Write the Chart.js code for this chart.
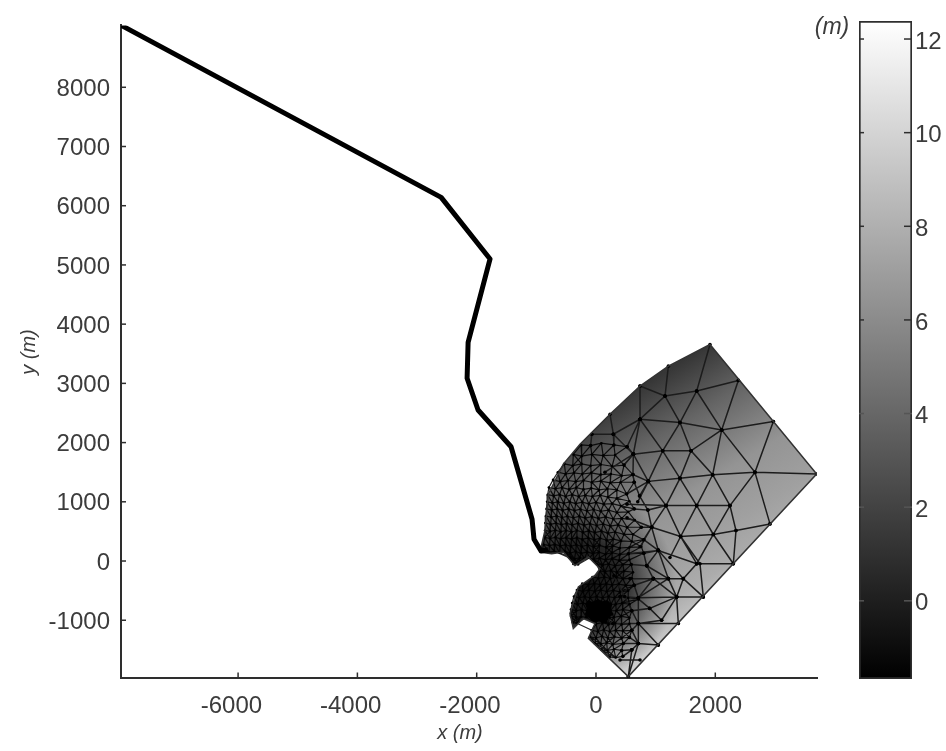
<!DOCTYPE html>
<html lang="en">

<head>
    <meta charset="UTF-8">
    <title>Mesh and colorbar</title>
    <script src="https://cdn.jsdelivr.net/npm/chart.js"></script>
    <style>
        body { margin: 0; background: #fff; }
        canvas { position: absolute; left: 0; top: 0; filter: blur(0.5px); }
    </style>
</head>

<body>
    <canvas id="meshChart" width="946" height="751"></canvas>
    <canvas id="barChart" width="946" height="751"></canvas>

    <script>
        // axes
        const xRange = [-7963, 3705];
        const yRange = [-1967, 9045];
        const xTicks = [-6000, -4000, -2000, 0, 2000];
        const yTicks = [-1000, 0, 1000, 2000, 3000, 4000, 5000, 6000, 7000, 8000];
        const barRange = [-1.67, 12.385];
        const barTicks = [0, 2, 4, 6, 8, 10, 12];

        // thick channel line
        const coastline = [[-7956, 9044], [-2596, 6141], [-1776, 5101], [-2144, 3691], [-2161, 3087], [-1977, 2550],
            [-1424, 1930], [-1072, 705], [-1039, 369], [-921, 168], [-804, 190]];

        // outline of the meshed area
        const domain = [[-799, 1132], [-548, 1637], [-268, 1973], [235, 2478], [738, 2955], [1213, 3291], [1911, 3656],
            [3699, 1469], [542, -1952], [-128, -1307], [-17, -1055], [-212, -971], [-380, -1139], [-436, -887],
            [-296, -438], [-17, -242], [67, -130], [-128, 67], [-352, -74], [-548, 151], [-743, 123], [-939, 151],
            [-855, 515], [-799, 1132]];

        // black patch where the triangles are too small to see
        const blackBlob = [[-184, -720], [-130, -660], [-60, -690], [30, -640], [110, -680], [190, -660], [270, -740], [250, -830],
            [300, -900], [210, -960], [180, -1060], [60, -1020], [-40, -1040], [-120, -960], [-190, -900], [-150, -820], [-184, -720]];

        const coarseLines = [
            [[738, 2955], [1157, 2786], [1688, 2871], [2386, 3050]],
            [[1911, 3656], [1688, 2871], [1408, 2338], [1118, 1861], [877, 1345], [700, 1000]],
            [[1213, 3291], [1157, 2786], [738, 2394], [626, 1805], [150, 1500]],
            [[738, 2955], [738, 2394]],
            [[-70, 2140], [291, 2142], [738, 2394]],
            [[738, 2394], [1408, 2338], [2107, 2214], [2973, 2355]],
            [[1688, 2871], [2107, 2214], [2665, 1497], [2917, 627]],
            [[2386, 3050], [2107, 2214], [1956, 1457], [1688, 936], [1419, 414], [1240, 60]],
            [[1157, 2786], [1408, 2338], [1593, 1861], [1956, 1457], [2246, 936], [2347, 515], [2302, -46]],
            [[2973, 2355], [2665, 1497], [2246, 936], [1967, 448], [1688, -46], [1464, -298], [1352, -606]],
            [[3699, 1469], [2665, 1497], [1956, 1457], [1408, 1396], [877, 1345], [514, 1132]],
            [[626, 1805], [1118, 1861], [1593, 1861], [2107, 2214]],
            [[738, 2394], [1118, 1861], [1408, 1396], [1688, 936], [1967, 448], [2302, -46]],
            [[1593, 1861], [1408, 1396], [1174, 936], [933, 571], [740, 240]],
            [[2917, 627], [2347, 515], [1967, 448], [1419, 414], [933, 571], [520, 730]],
            [[520, 960], [1174, 936], [1688, 936], [2246, 936]],
            [[877, 1345], [1174, 936], [1419, 414], [1743, -46], [1799, -606]],
            [[933, 571], [1045, 179], [1464, -298], [1799, -606]],
            [[542, 123], [1045, 179], [1688, -46], [2302, -46]],
            [[570, -298], [961, -298], [1213, -298], [1464, -298]],
            [[400, -600], [710, -620], [1352, -606], [1799, -606]],
            [[1352, -606], [1100, -1000], [710, -1055]],
            [[280, -1055], [710, -1055], [1380, -1055]],
            [[710, -1055], [1045, -1420]],
            [[458, -1392], [710, -1392], [1045, -1420]],
            [[710, -1055], [710, -1392], [542, -1952]],
            [[403, -1672], [738, -1672]],
            [[542, -1952], [600, -1500]],
            [[961, -298], [1352, -606], [1380, -1055]],
            [[710, -1055], [480, -600], [300, -250]],
            [[1045, 179], [1213, -298], [1352, -606]],
            [[961, -298], [710, -620], [710, -1055]],
            [[1213, -298], [710, -620]],
            [[1419, 414], [1688, -46]],
            [[235, 2478], [291, 2142], [626, 1805], [877, 1345]],
            [[-70, 2140], [-90, 1950]],
            [[291, 2142], [300, 1960]],
            [[640, 1330], [730, 1100], [877, 1345]],
            [[730, 1100], [870, 860], [1174, 936]],
            [[640, 880], [870, 860], [933, 571]],
            [[760, 570], [933, 571]],
            [[800, 360], [933, 571]],
            [[800, 360], [1045, 179]],
            [[800, 130], [1045, 179]],
            [[800, 130], [850, -80], [1045, 179]],
            [[850, -80], [1213, -298]],
            [[850, -80], [961, -298]],
            [[590, -60], [850, -80]],
            [[640, -410], [961, -298]],
            [[640, -410], [710, -620]],
            [[710, -640], [900, -800], [1352, -606]],
            [[600, -840], [900, -800], [1100, -1000]],
            [[600, -840], [710, -1055]],
            [[600, -1170], [710, -1055]],
            [[600, -1170], [710, -1392]],
            [[560, -1290], [710, -1392]],
            [[450, -1610], [600, -1500], [710, -1392]],
            [[430, -1510], [600, -1500]],
            [[640, 1330], [620, 1460], [877, 1345]],
            [[620, 1460], [626, 1805]],
            [[470, 1620], [626, 1805]],
            [[520, 1930], [626, 1805]],
            [[520, 1930], [738, 2394]]
        ];

        // nodes of the fine mesh, row by row from the top
        const fineRows = [
            [[-250, 1960], [-90, 1950], [90, 1990], [300, 1960], [520, 1930]],
            [[-380, 1800], [-240, 1770], [-70, 1800], [120, 1780], [320, 1790], [626, 1805]],
            [[-530, 1640], [-390, 1610], [-240, 1640], [-90, 1610], [80, 1630], [270, 1600], [470, 1620]],
            [[-640, 1500], [-510, 1470], [-370, 1490], [-230, 1470], [-80, 1490], [80, 1460], [250, 1470], [430, 1440], [620, 1460]],
            [[-720, 1370], [-600, 1340], [-470, 1360], [-340, 1340], [-210, 1360], [-70, 1330], [80, 1350], [240, 1320], [410, 1330], [640, 1330]],
            [[-790, 1240], [-680, 1220], [-570, 1240], [-450, 1210], [-330, 1240], [-210, 1210], [-80, 1230], [50, 1200], [190, 1220], [350, 1200], [514, 1132]],
            [[-810, 1120], [-710, 1100], [-610, 1120], [-510, 1090], [-400, 1120], [-290, 1090], [-180, 1110], [-60, 1090], [70, 1110], [200, 1080], [350, 1060], [560, 1010]],
            [[-820, 1000], [-730, 980], [-640, 1000], [-540, 975], [-440, 1000], [-340, 970], [-230, 995], [-120, 965], [0, 990], [130, 960], [270, 970], [420, 930], [640, 880]],
            [[-830, 880], [-740, 860], [-650, 880], [-560, 855], [-460, 880], [-360, 850], [-260, 875], [-150, 845], [-40, 870], [80, 840], [210, 860], [350, 820], [540, 830]],
            [[-840, 760], [-750, 740], [-660, 760], [-570, 735], [-480, 755], [-380, 730], [-280, 755], [-180, 725], [-70, 750], [40, 720], [160, 745], [290, 710], [430, 720], [650, 690]],
            [[-850, 640], [-760, 620], [-670, 640], [-580, 615], [-490, 635], [-400, 610], [-300, 635], [-200, 605], [-100, 630], [10, 600], [120, 625], [240, 590], [370, 610], [520, 570], [760, 570]],
            [[-855, 515], [-770, 500], [-680, 520], [-590, 495], [-500, 515], [-410, 490], [-320, 515], [-220, 485], [-120, 510], [-20, 480], [90, 505], [200, 470], [320, 490], [470, 450], [620, 450]],
            [[-860, 400], [-770, 380], [-680, 400], [-590, 375], [-500, 395], [-410, 370], [-320, 395], [-230, 365], [-130, 390], [-30, 360], [70, 385], [180, 350], [290, 370], [420, 340], [600, 330], [800, 360]],
            [[-880, 280], [-780, 260], [-690, 280], [-600, 255], [-510, 275], [-420, 250], [-330, 275], [-240, 245], [-140, 270], [-40, 240], [60, 265], [170, 230], [280, 255], [400, 220], [560, 230], [760, 240]],
            [[-900, 170], [-790, 150], [-700, 165], [-610, 140], [-520, 165], [-430, 135], [-340, 160], [-250, 130], [-150, 155], [-50, 125], [50, 150], [160, 115], [270, 140], [400, 110], [550, 123], [800, 130]],
            [[-440, 50], [-360, 35], [-270, 55], [-190, 40], [-110, 50], [-40, 30], [60, 50], [160, 20], [270, 40], [390, 10], [560, 20]],
            [[-380, -50], [-300, -60], [10, -50], [110, -70], [210, -50], [320, -80], [450, -60], [590, -60]],
            [[60, -165], [150, -180], [250, -160], [350, -190], [470, -170], [620, -190]],
            [[-60, -270], [40, -290], [140, -270], [240, -295], [340, -275], [450, -300], [600, -290]],
            [[-230, -380], [-130, -400], [-30, -380], [70, -400], [170, -385], [270, -405], [380, -390], [500, -410], [640, -410]],
            [[-320, -490], [-220, -510], [-120, -490], [-20, -510], [80, -490], [180, -515], [290, -495], [400, -520], [540, -500]],
            [[-370, -600], [-280, -620], [-190, -600], [-100, -620], [10, -600], [110, -620], [210, -600], [310, -620], [420, -600], [540, -620], [710, -640]],
            [[-400, -710], [-310, -730], [-220, -710], [-130, -730], [-30, -710], [70, -730], [170, -710], [250, -730], [330, -730], [440, -710], [560, -730]],
            [[-420, -820], [-330, -840], [-240, -820], [-150, -840], [-60, -820], [40, -840], [140, -820], [240, -840], [340, -840], [450, -820], [600, -840]],
            [[-420, -930], [-330, -950], [-250, -940], [-160, -950], [-70, -930], [30, -950], [130, -930], [220, -950], [300, -950], [420, -930], [560, -960]],
            [[-390, -1040], [-320, -1050], [0, -1060], [110, -1040], [210, -1070], [320, -1050], [430, -1070], [560, -1060]],
            [[-70, -1170], [30, -1190], [130, -1160], [230, -1190], [330, -1170], [450, -1180], [600, -1170]],
            [[-100, -1280], [0, -1300], [100, -1270], [200, -1300], [310, -1280], [430, -1300], [560, -1290]],
            [[-20, -1390], [80, -1400], [180, -1380], [280, -1410], [458, -1392]],
            [[90, -1500], [190, -1510], [300, -1490], [430, -1510]],
            [[230, -1620], [330, -1630], [450, -1610]]
        ];

        // grey stops of the surface, along a line from upper left to lower right
        const surfaceFrom = [-156, 3038];
        const surfaceTo = [2313, -1016];
        const surfaceStops = [[0, 45], [0.12, 55], [0.3, 100], [0.53, 148], [0.7, 160], [0.82, 172], [0.95, 205], [1, 225]];

        // shade around the fine part of the mesh, as black with falling opacity
        const shadeCentre = [-250, -400];
        const shadeRadius = 1600;
        const shadeStops = [[0, 0.9], [0.45, 0.75], [0.75, 0.3], [1, 0]];

        const maxFineEdge = 290;
        const textColor = "#3c3c3c";
        const lineColor = "#2e2e2e";
        const tickFont = { family: "'Liberation Sans'", size: 24 };

        function toPoints(list) {
            return list.map(p => ({ x: p[0], y: p[1] }));
        }

        // lines with a gap between each polyline
        function joinLines(lines) {
            let out = [];
            lines.forEach(line => {
                line.forEach(p => out.push({ x: p[0], y: p[1] }));
                out.push({ x: NaN, y: NaN });
            });
            return out;
        }

        //connect each node to its neighbours in the row and to the closest two in the next row
        function fineEdges() {
            let edges = [];
            let near = (a, b) => Math.hypot(a[0] - b[0], a[1] - b[1]);
            fineRows.forEach((row, r) => {
                row.forEach((p, i) => {
                    if (i > 0 && near(p, row[i - 1]) <= maxFineEdge) edges.push([row[i - 1], p]);
                    if (r + 1 < fineRows.length) {
                        let next = fineRows[r + 1].slice().sort((a, b) => near(p, a) - near(p, b));
                        next.slice(0, 2).forEach(q => {
                            if (near(p, q) <= maxFineEdge) edges.push([p, q]);
                        });
                    }
                });
            });
            return edges;
        }

        function surfaceFill(context) {
            let chart = context.chart;
            if (!chart.chartArea) return "#888";
            let sx = chart.scales.x, sy = chart.scales.y;
            let g = chart.ctx.createLinearGradient(
                sx.getPixelForValue(surfaceFrom[0]), sy.getPixelForValue(surfaceFrom[1]),
                sx.getPixelForValue(surfaceTo[0]), sy.getPixelForValue(surfaceTo[1]));
            surfaceStops.forEach(s => g.addColorStop(s[0], "rgb(" + s[1] + "," + s[1] + "," + s[1] + ")"));
            return g;
        }

        function shadeFill(context) {
            let chart = context.chart;
            if (!chart.chartArea) return "rgba(0,0,0,0)";
            let sx = chart.scales.x, sy = chart.scales.y;
            let cx = sx.getPixelForValue(shadeCentre[0]), cy = sy.getPixelForValue(shadeCentre[1]);
            let r = sx.getPixelForValue(shadeCentre[0] + shadeRadius) - cx;
            let g = chart.ctx.createRadialGradient(cx, cy, 0, cx, cy, r);
            shadeStops.forEach(s => g.addColorStop(s[0], "rgba(0,0,0," + s[1] + ")"));
            return g;
        }

        function barFill(context) {
            let chart = context.chart;
            if (!chart.chartArea) return "#888";
            let g = chart.ctx.createLinearGradient(0, chart.chartArea.bottom, 0, chart.chartArea.top);
            g.addColorStop(0, "#000");
            g.addColorStop(1, "#fff");
            return g;
        }

        // matlab style ticks pointing into the axes, and the axis labels
        const meshDecor = {
            id: "meshDecor",
            afterDraw(chart) {
                let c = chart.ctx, a = chart.chartArea;
                c.save();
                c.strokeStyle = lineColor;
                c.lineWidth = 1.5;
                chart.scales.x.ticks.forEach(t => {
                    let px = chart.scales.x.getPixelForValue(t.value);
                    c.beginPath(); c.moveTo(px, a.bottom); c.lineTo(px, a.bottom - 5); c.stroke();
                });
                chart.scales.y.ticks.forEach(t => {
                    let py = chart.scales.y.getPixelForValue(t.value);
                    c.beginPath(); c.moveTo(a.left, py); c.lineTo(a.left + 5, py); c.stroke();
                });
                c.fillStyle = textColor;
                c.font = "italic 20px 'Liberation Sans'";
                c.textAlign = "center";
                c.textBaseline = "middle";
                c.fillText("x (m)", 460, 733);
                c.translate(29, 352);
                c.rotate(-Math.PI / 2);
                c.fillText("y (m)", 0, 0);
                c.restore();
            }
        };

        const barDecor = {
            id: "barDecor",
            afterDraw(chart) {
                let c = chart.ctx, a = chart.chartArea;
                c.save();
                barTicks.forEach(v => {
                    let py = chart.scales.y.getPixelForValue(v);
                    c.strokeStyle = v < 5 ? "#555" : lineColor;
                    c.lineWidth = 1.5;
                    c.beginPath(); c.moveTo(a.left, py); c.lineTo(a.left + 5, py); c.stroke();
                    c.beginPath(); c.moveTo(a.right, py); c.lineTo(a.right - 8, py); c.stroke();
                });
                c.fillStyle = textColor;
                c.font = "italic 23px 'Liberation Sans'";
                c.textAlign = "center";
                c.textBaseline = "middle";
                c.fillText("(m)", 832, 28);
                c.restore();
            }
        };

        function zone(points, fill, order) {
            return { data: toPoints(points), showLine: true, fill: "shape", backgroundColor: fill, borderWidth: 0, pointRadius: 0, order: order };
        }

        new Chart(document.getElementById("meshChart"), {
            type: "scatter",
            data: {
                datasets: [
                    zone(domain, surfaceFill, 10),
                    zone(domain, shadeFill, 9),
                    {
                        data: joinLines(fineEdges()), showLine: true, spanGaps: false, borderColor: "rgba(0,0,0,0.85)",
                        borderWidth: 1.2, pointRadius: 0, order: 7
                    },
                    {
                        data: joinLines(coarseLines), showLine: true, spanGaps: false, borderColor: "#1c1c1c",
                        borderWidth: 1.5, pointRadius: 1.8, pointBackgroundColor: "#000", pointBorderWidth: 0, order: 6
                    },
                    { data: toPoints(fineRows.flat()), pointRadius: 1.3, pointBackgroundColor: "#000", pointBorderWidth: 0, order: 5 },
                    zone(blackBlob, "#000", 4),
                    {
                        data: toPoints(domain), showLine: true, borderColor: "#333", borderWidth: 1.5, pointRadius: 0, order: 3
                    },
                    {
                        data: toPoints(coastline), showLine: true, borderColor: "#000", borderWidth: 5, pointRadius: 0,
                        borderJoinStyle: "round", order: 2
                    }
                ]
            },
            options: {
                responsive: false,
                animation: false,
                layout: { padding: { top: 23, right: 129, left: 0, bottom: 0 } },
                plugins: { legend: { display: false }, tooltip: { enabled: false } },
                scales: {
                    x: {
                        type: "linear",
                        min: xRange[0],
                        max: xRange[1],
                        afterBuildTicks: s => { s.ticks = xTicks.map(v => ({ value: v })); },
                        afterFit: s => { s.height = 73.5; },
                        grid: { drawOnChartArea: false, drawTicks: false },
                        border: { color: lineColor, width: 2 },
                        ticks: { color: textColor, font: tickFont, padding: 14, maxRotation: 0, autoSkip: false, callback: v => v < 0 ? v + "  " : String(v) }
                    },
                    y: {
                        type: "linear",
                        min: yRange[0],
                        max: yRange[1],
                        afterBuildTicks: s => { s.ticks = yTicks.map(v => ({ value: v })); },
                        afterFit: s => { s.width = 121; },
                        grid: { drawOnChartArea: false, drawTicks: false },
                        border: { color: lineColor, width: 2 },
                        ticks: { color: textColor, font: tickFont, padding: 11, labelOffset: 2, autoSkip: false, callback: v => String(v) }
                    }
                }
            },
            plugins: [meshDecor]
        });

        new Chart(document.getElementById("barChart"), {
            type: "bar",
            data: {
                labels: ["depth"],
                datasets: [{
                    data: [barRange],
                    backgroundColor: barFill,
                    borderColor: lineColor,
                    borderWidth: 2,
                    borderSkipped: false,
                    barPercentage: 1,
                    categoryPercentage: 1
                }]
            },
            options: {
                responsive: false,
                animation: false,
                layout: { padding: { top: 21, right: 0, left: 859, bottom: 72 } },
                plugins: { legend: { display: false }, tooltip: { enabled: false } },
                scales: {
                    x: { display: false },
                    y: {
                        position: "right",
                        min: barRange[0],
                        max: barRange[1],
                        afterBuildTicks: s => { s.ticks = barTicks.map(v => ({ value: v })); },
                        afterFit: s => { s.width = 34; },
                        grid: { display: false, drawTicks: false },
                        border: { display: false },
                        ticks: { color: textColor, font: tickFont, padding: 3, labelOffset: 3, autoSkip: false, callback: v => String(v) }
                    }
                }
            },
            plugins: [barDecor]
        });
    </script>
</body>

</html>
